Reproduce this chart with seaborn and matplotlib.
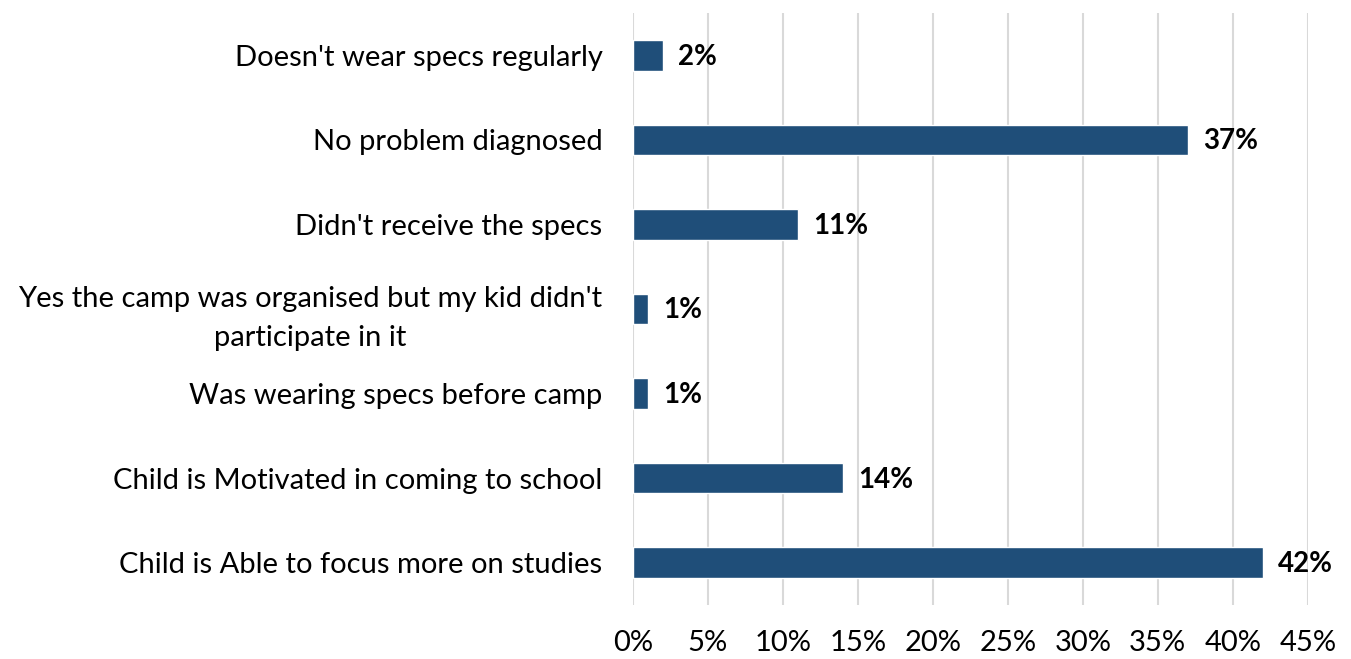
import pandas as pd
import matplotlib.pyplot as plt
import seaborn as sns

# Datos del gráfico
categorias = [
    "Doesn't wear specs regularly",
    "No problem diagnosed",
    "Didn't receive the specs",
    "Yes the camp was organised but my kid didn't\nparticipate in it",
    "Was wearing specs before camp",
    "Child is Motivated in coming to school",
    "Child is Able to focus more on studies",
]
porcentajes = [2, 37, 11, 1, 1, 14, 42]
ticks_x = [0, 5, 10, 15, 20, 25, 30, 35, 40, 45]

df = pd.DataFrame({'Categoria': categorias, 'Porcentaje': porcentajes})

sns.set_style('white')
plt.rcParams['font.family'] = ['Lato', 'DejaVu Sans']
plt.rcParams['text.color'] = 'black'

fig = plt.figure(figsize=(13.51, 6.59), dpi=100)
ax = fig.add_axes([0.4685, 0.082, 0.4995, 0.898])

sns.barplot(data=df, y='Categoria', x='Porcentaje', orient='h',
            color='#1F4E79', width=0.36, ax=ax, saturation=1)

ax.set_xlim(0, 45)
ax.set_ylim(6.5, -0.5)
ax.set_xticks(ticks_x)
ax.set_xticklabels([f'{t}%' for t in ticks_x])
ax.grid(axis='x', color='#D9D9D9', linewidth=1.5)
ax.set_axisbelow(True)
for s in ax.spines.values():
    s.set_visible(False)
ax.set_xlabel('')
ax.set_ylabel('')
ax.tick_params(axis='x', labelsize=21, pad=18, length=0, labelcolor='black')
ax.tick_params(axis='y', labelsize=21, pad=22, length=0, labelcolor='black')
for lbl in ax.get_yticklabels():
    lbl.set_horizontalalignment('right')
    lbl.set_multialignment('center')
    lbl.set_linespacing(1.65)

# Etiquetas de valores
for i, v in enumerate(porcentajes):
    ax.annotate(f'{v}%', xy=(v, i), xytext=(11, -1), textcoords='offset points',
                va='center', ha='left', fontsize=20, fontweight='bold', color='black')

fig.savefig('out.png', dpi=100)
